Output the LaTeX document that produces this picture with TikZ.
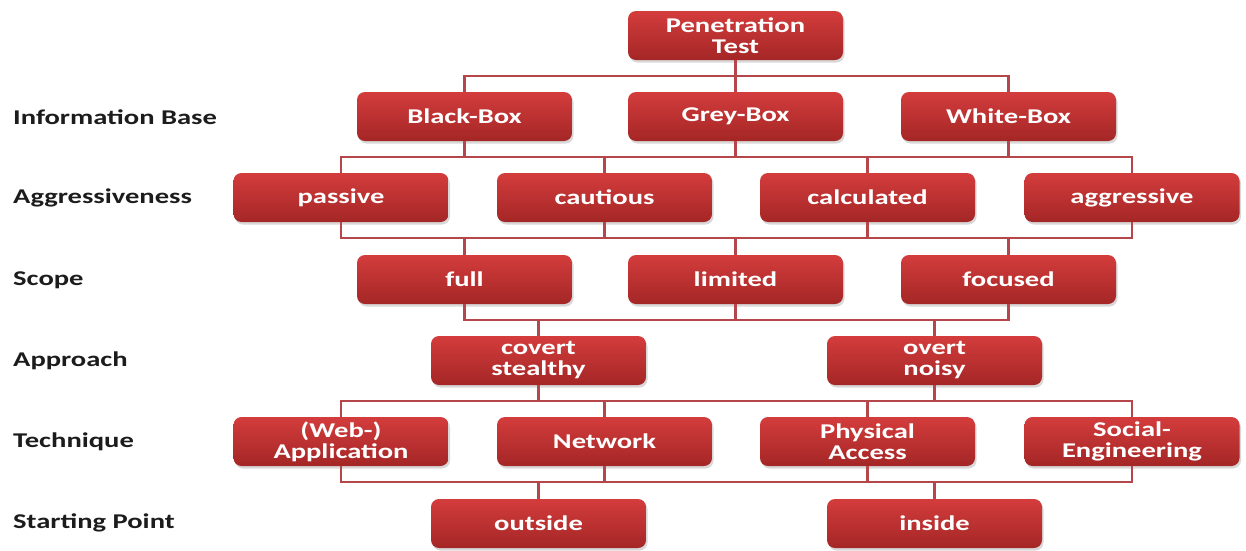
\documentclass[tikz,border=0pt]{standalone}
\usepackage{fontspec}
\setmainfont{Carlito}[FakeStretch=1.36]
\usetikzlibrary{shadows}
\definecolor{boxtop}{HTML}{D43C3C}
\definecolor{boxbot}{HTML}{A42626}
\definecolor{linec}{HTML}{B5474A}
\definecolor{lab}{HTML}{1C1C1C}
\begin{document}
\begin{tikzpicture}[x=1pt,y=-1pt,
  box/.style={rounded corners=8pt, top color=boxtop, bottom color=boxbot,
    minimum width=215pt, minimum height=49pt, inner sep=0pt, text=white,
    font=\bfseries\fontsize{21}{21}\selectfont, align=center,
    drop shadow={opacity=0.3, shadow xshift=1.5pt, shadow yshift=-2.5pt}},
  lbl/.style={anchor=west, inner sep=0pt, text=lab, font=\bfseries\fontsize{21}{21}\selectfont},
  conn/.style={draw=linec, line width=2.5pt}]
\fill[white] (0,0) rectangle (1246,550);
\useasboundingbox (0,0) rectangle (1246,550);

% bus levels
\coordinate (b0) at (0,76);
\coordinate (b1) at (0,157);
\coordinate (b2) at (0,238);
\coordinate (b3) at (0,320);
\coordinate (b4) at (0,401);
\coordinate (b5) at (0,482);

% row labels
\node[lbl] (l1) at (13,117) {Information Base};
\node[lbl] (l2) at (13,198) {Aggressiveness};
\node[lbl] (l3) at (13,280) {Scope};
\node[lbl] (l4) at (13,361) {Approach};
\node[lbl] (l5) at (13,442) {Technique};
\node[lbl] (l6) at (13,523) {Starting Point};

% boxes
\node[box] (pt) at (735.5,35.5) {Penetration\\Test};
\node[box] (bb) at (464.5,116.5) {Black-Box};
\node[box] (gb) at (735.5,116.5) {Grey-Box};
\node[box] (wb) at (1008.5,116.5) {White-Box};
\node[box] (pa) at (341,197.5) {passive};
\node[box] (ca) at (604.5,197.5) {cautious};
\node[box] (cl) at (867.5,197.5) {calculated};
\node[box] (ag) at (1132,197.5) {aggressive};
\node[box] (fu) at (464.5,279.5) {full};
\node[box] (li) at (735.5,279.5) {limited};
\node[box] (fo) at (1008.5,279.5) {focused};
\node[box] (co) at (538.5,360.5) {covert\\stealthy};
\node[box] (ov) at (934.5,360.5) {overt\\noisy};
\node[box] (we) at (341,441.5) {(Web-)\\Application};
\node[box] (ne) at (604.5,441.5) {Network};
\node[box] (ph) at (867.5,441.5) {Physical\\Access};
\node[box] (so) at (1132,441.5) {Social-\\Engineering};
\node[box] (ou) at (538.5,523.5) {outside};
\node[box] (in) at (934.5,523.5) {inside};

% connectors
\foreach \c in {bb,gb,wb}
  \draw[conn] (pt.south) -- (pt.south |- b0) -| (\c.north);
\foreach \p in {bb,gb,wb}
  \foreach \c in {pa,ca,cl,ag}
    \draw[conn] (\p.south) -- (\p.south |- b1) -| (\c.north);
\foreach \p in {pa,ca,cl,ag}
  \foreach \c in {fu,li,fo}
    \draw[conn] (\p.south) -- (\p.south |- b2) -| (\c.north);
\foreach \p in {fu,li,fo}
  \foreach \c in {co,ov}
    \draw[conn] (\p.south) -- (\p.south |- b3) -| (\c.north);
\foreach \p in {co,ov}
  \foreach \c in {we,ne,ph,so}
    \draw[conn] (\p.south) -- (\p.south |- b4) -| (\c.north);
\foreach \p in {we,ne,ph,so}
  \foreach \c in {ou,in}
    \draw[conn] (\p.south) -- (\p.south |- b5) -| (\c.north);
\end{tikzpicture}
\end{document}
